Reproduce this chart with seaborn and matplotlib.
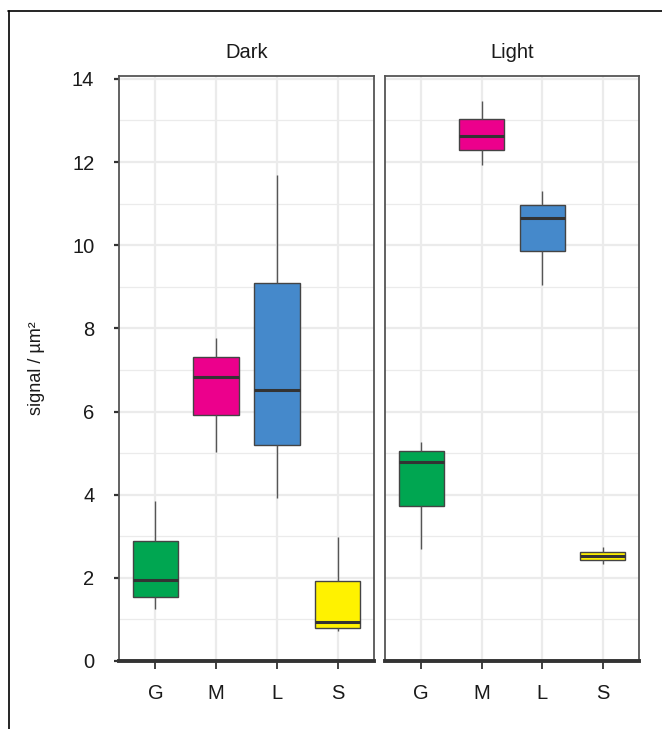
import numpy as np
import pandas as pd
import matplotlib
matplotlib.use("Agg")
import matplotlib.pyplot as plt
from matplotlib.lines import Line2D
from matplotlib.ticker import MultipleLocator
import seaborn as sns

# five-number summaries (min, q1, median, q3, max)
categories = ["G", "M", "L", "S"]
conditions = ["Dark", "Light"]
colors = ["#00A651", "#EC008C", "#4589CB", "#FFF200"]

dark_min = [1.25, 5.02, 3.91, 0.73]
dark_q1 = [1.55, 5.92, 5.19, 0.80]
dark_med = [1.94, 6.84, 6.52, 0.93]
dark_q3 = [2.88, 7.30, 9.10, 1.92]
dark_max = [3.84, 7.76, 11.70, 2.98]

light_min = [2.70, 11.94, 9.05, 2.33]
light_q1 = [3.72, 12.28, 9.86, 2.42]
light_med = [4.79, 12.62, 10.66, 2.53]
light_q3 = [5.04, 13.04, 10.97, 2.61]
light_max = [5.27, 13.47, 11.30, 2.74]

yticks = [0, 2, 4, 6, 8, 10, 12, 14]


def long_frame(cond, *cols):
    rows = []
    for i, cat in enumerate(categories):
        for col in cols:
            rows.append({"condition": cond, "cell": cat, "signal": col[i]})
    return pd.DataFrame(rows)


df = pd.concat([
    long_frame("Dark", dark_min, dark_q1, dark_med, dark_q3, dark_max),
    long_frame("Light", light_min, light_q1, light_med, light_q3, light_max),
], ignore_index=True)

sns.set_theme(style="white")
plt.rcParams["font.family"] = ["Liberation Sans Narrow", "Liberation Sans", "DejaVu Sans"]

W, H = 662, 729
fig = plt.figure(figsize=(W / 100, H / 100), dpi=100)

panels = {"Dark": (119, 374), "Light": (385, 639)}
top_px, bot_px = 76, 661
palette = dict(zip(categories, colors))
fs = 14.5

axes = []
for cond in conditions:
    x0, x1 = panels[cond]
    ax = fig.add_axes([x0 / W, 1 - bot_px / H, (x1 - x0) / W, (bot_px - top_px) / H])
    sub = df[df["condition"] == cond]
    sns.boxplot(
        data=sub, x="cell", y="signal", hue="cell", order=categories,
        hue_order=categories, palette=palette, width=0.75, whis=(0, 100),
        linewidth=1.0, linecolor="#444444", showcaps=False, legend=False,
        saturation=1,
        medianprops=dict(color="#333333", linewidth=2.2),
        whiskerprops=dict(color="#555555", linewidth=1.0),
        boxprops=dict(edgecolor="#444444", linewidth=1.0),
        ax=ax, zorder=3,
    )
    ax.set_xlim(-0.6, 3.6)
    ax.set_ylim(0, 14.07)
    ax.set_yticks(yticks)
    ax.yaxis.set_minor_locator(MultipleLocator(1))
    ax.grid(which="major", color="#EBEBEB", linewidth=1.6, zorder=0)
    ax.grid(which="minor", axis="y", color="#EBEBEB", linewidth=0.9, zorder=0)
    ax.set_axisbelow(True)
    for side in ["top", "right", "left"]:
        ax.spines[side].set_color("#555555")
        ax.spines[side].set_linewidth(1.3)
    ax.spines["bottom"].set_color("#333333")
    ax.spines["bottom"].set_linewidth(2.8)
    ax.set_xlabel("")
    ax.set_ylabel("")
    ax.tick_params(axis="x", which="major", length=5.5, width=1.3, color="#333333",
                   pad=11, labelsize=fs, labelcolor="#1a1a1a", bottom=True)
    ax.set_title(cond, fontsize=fs, pad=13, color="#1a1a1a")
    axes.append(ax)

ax_d, ax_l = axes
ax_d.tick_params(axis="y", which="major", length=3.8, width=1.6, color="#333333",
                 pad=14, labelsize=fs, labelcolor="#1a1a1a", left=True)
ax_d.tick_params(axis="y", which="minor", length=0)
ax_d.set_ylabel("signal / µm²", fontsize=13, color="#1a1a1a")
ax_d.yaxis.set_label_coords(-0.29, 0.5)
ax_l.tick_params(axis="y", which="both", length=0, labelleft=False)

# outer frame (top and left edges only)
fig.add_artist(Line2D([8 / W, 1], [1 - 11 / H, 1 - 11 / H], color="black", linewidth=1.2))
fig.add_artist(Line2D([9 / W, 9 / W], [0, 1 - 11 / H], color="black", linewidth=1.2))

fig.savefig("out.png", dpi=100)
